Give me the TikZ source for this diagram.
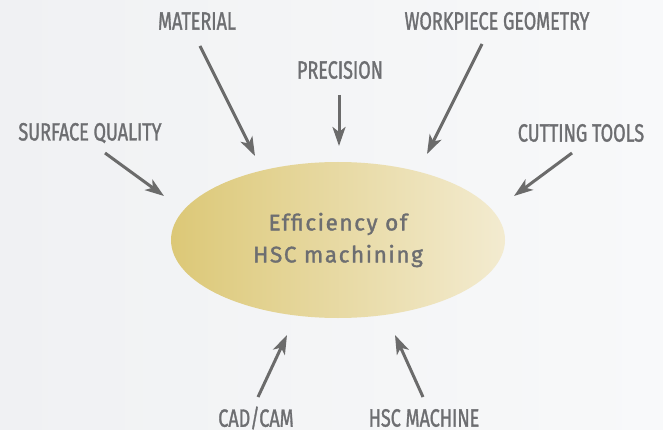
\documentclass[tikz,border=0pt]{standalone}
\usepackage{fontspec}
\setmainfont{Fira Sans}
\newfontfamily\labelfont[FakeStretch=0.72,FakeBold=1.2]{Fira Sans}
\newfontfamily\centerfont[LetterSpace=7,FakeBold=1.5]{Fira Sans}
\usetikzlibrary{arrows.meta,shapes.geometric}
\definecolor{txtgray}{HTML}{6D6E71}
\definecolor{arrgray}{HTML}{6B6B6B}
\definecolor{goldL}{HTML}{DCC877}
\definecolor{goldR}{HTML}{F3EBD0}
\definecolor{bgL}{HTML}{F0F1F3}
\definecolor{bgR}{HTML}{F8F9FA}
\tikzset{
  lbl/.style={font=\labelfont\fontsize{25}{28}\selectfont, text=txtgray, inner sep=0pt},
  conn/.style={draw=arrgray, line width=3pt, -{Stealth[length=19pt,width=13pt,inset=5pt]}},
  core/.style={ellipse, minimum width=334pt, minimum height=156pt, inner sep=0pt,
    left color=goldL, right color=goldR, shading angle=90, draw=none,
    text=txtgray, align=center, font=\centerfont\fontsize{22.5}{32}\selectfont}
}
\begin{document}
\begin{tikzpicture}[x=1pt,y=-1pt]
\useasboundingbox (0,0) rectangle (663,430);
\shade[left color=bgL, right color=bgR] (0,0) rectangle (663,430);
\node[core] (eff) at (338,240) {Efficiency of\\HSC machining};
\node[lbl] (mat) at (197,21) {MATERIAL};
\node[lbl] (pre) at (340,70) {PRECISION};
\node[lbl] (wpg) at (497,21) {WORKPIECE GEOMETRY};
\node[lbl] (sfq) at (90,133) {SURFACE QUALITY};
\node[lbl] (ctt) at (581,133) {CUTTING TOOLS};
\node[lbl] (cad) at (256,418) {CAD/CAM};
\node[lbl] (hsc) at (424,418) {HSC MACHINE};
\coordinate (mat-a) at (200,46);  \coordinate (mat-b) at (255,156);
\coordinate (pre-a) at (339,95);  \coordinate (pre-b) at (339,146);
\coordinate (wpg-a) at (482,44);  \coordinate (wpg-b) at (427,154);
\coordinate (sfq-a) at (105,153); \coordinate (sfq-b) at (164,196);
\coordinate (ctt-a) at (572,153); \coordinate (ctt-b) at (514,196);
\coordinate (cad-a) at (258,397); \coordinate (cad-b) at (287,335);
\coordinate (hsc-a) at (423,397); \coordinate (hsc-b) at (395,335);
\draw[conn] (mat-a) -- (mat-b);
\draw[conn] (pre-a) -- (pre-b);
\draw[conn] (wpg-a) -- (wpg-b);
\draw[conn] (sfq-a) -- (sfq-b);
\draw[conn] (ctt-a) -- (ctt-b);
\draw[conn] (cad-a) -- (cad-b);
\draw[conn] (hsc-a) -- (hsc-b);
\end{tikzpicture}
\end{document}
